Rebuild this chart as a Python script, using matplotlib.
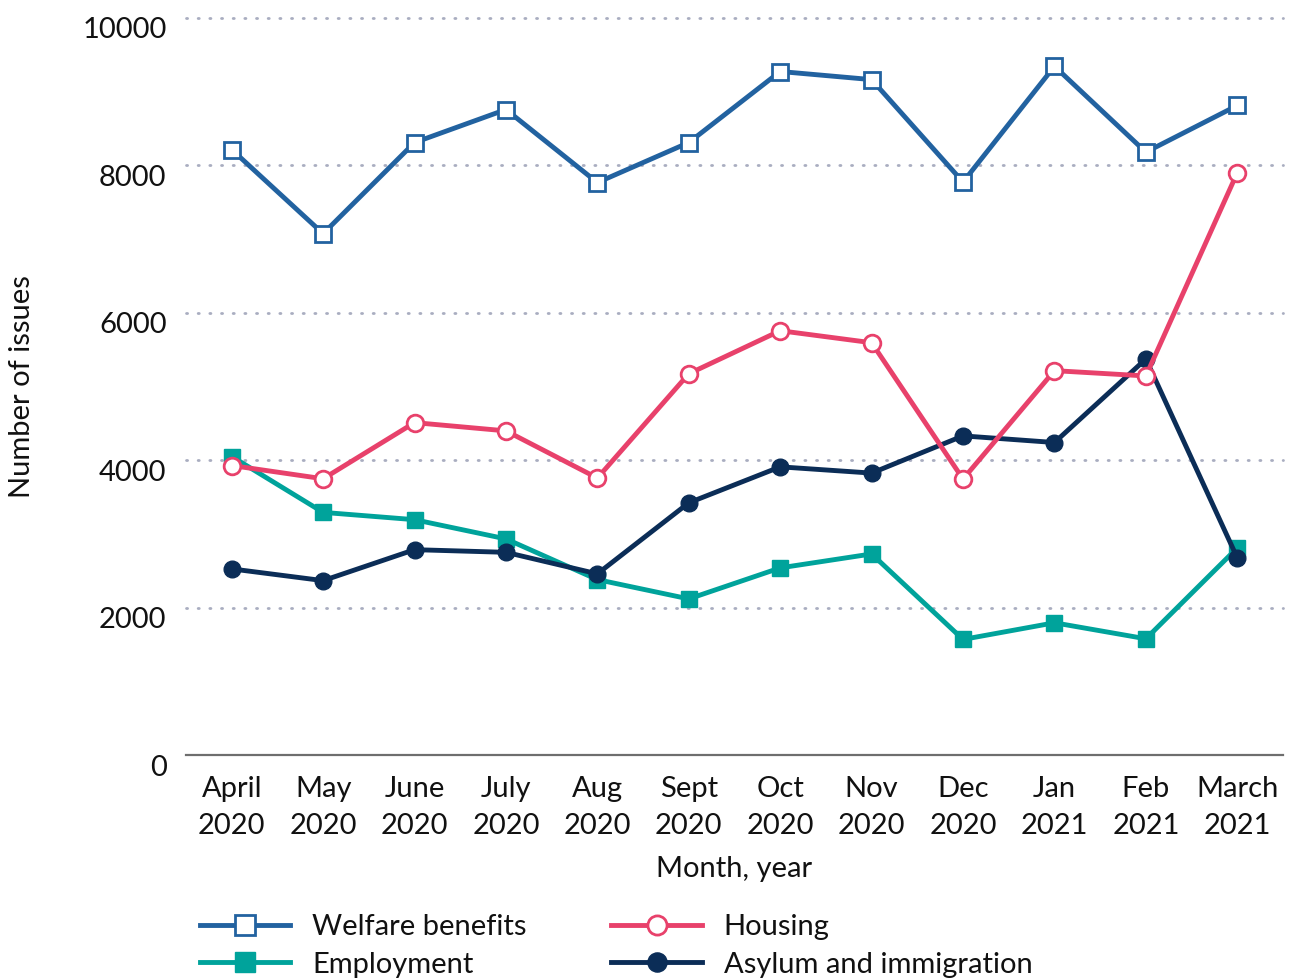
import matplotlib
matplotlib.use("Agg")
import matplotlib.pyplot as plt
import matplotlib.transforms as mtransforms

plt.rcParams['font.family'] = ['Lato', 'DejaVu Sans']

months = ["April\n2020", "May\n2020", "June\n2020", "July\n2020", "Aug\n2020", "Sept\n2020",
          "Oct\n2020", "Nov\n2020", "Dec\n2020", "Jan\n2021", "Feb\n2021", "March\n2021"]

welfare = [8215, 7074, 8310, 8758, 7767, 8310, 9274, 9164, 7774, 9345, 8180, 8813]
housing = [3928, 3748, 4510, 4398, 3758, 5173, 5757, 5594, 3744, 5215, 5143, 7901]
employment = [4050, 3292, 3193, 2932, 2380, 2118, 2539, 2728, 1568, 1794, 1577, 2810]
asylum = [2525, 2366, 2786, 2750, 2458, 3422, 3910, 3825, 4330, 4240, 5373, 2674]

y_ticks = [0, 2000, 4000, 6000, 8000, 10000]

C_WELFARE = "#2262a0"
C_HOUSING = "#e8416b"
C_EMPLOY = "#00a39b"
C_ASYLUM = "#0b2d57"

FS = 21

fig = plt.figure(figsize=(12.91, 9.80), dpi=100)
ax = fig.add_axes([186 / 1291, 1 - 755 / 980, (1283 - 186) / 1291, (755 - 18) / 980])

x = list(range(len(months)))
lw = 3.5
ms = 12

l_emp, = ax.plot(x, employment, color=C_EMPLOY, lw=lw, marker="s", ms=ms,
                 mfc=C_EMPLOY, mec=C_EMPLOY, zorder=3, label="Employment", clip_on=False)
l_asy, = ax.plot(x, asylum, color=C_ASYLUM, lw=lw, marker="o", ms=ms,
                 mfc=C_ASYLUM, mec=C_ASYLUM, zorder=4, label="Asylum and immigration", clip_on=False)
l_hou, = ax.plot(x, housing, color=C_HOUSING, lw=lw, marker="o", ms=ms,
                 mfc="white", mec=C_HOUSING, mew=2, zorder=5, label="Housing", clip_on=False)
l_wel, = ax.plot(x, welfare, color=C_WELFARE, lw=lw, marker="s", ms=ms,
                 mfc="white", mec=C_WELFARE, mew=2, zorder=6, label="Welfare benefits", clip_on=False)

ax.set_xlim(-0.5, len(months) - 0.5)
ax.set_ylim(0, 10000)

# dotted horizontal gridlines (not at zero)
for yv in y_ticks[1:]:
    ax.axhline(yv, color="#a9adc0", lw=2.0, ls=(0, (0.4, 3.8)), dash_capstyle="round",
               zorder=1, clip_on=False)

for side in ("top", "right", "left"):
    ax.spines[side].set_visible(False)
ax.spines["bottom"].set_color("#6e6e6e")
ax.spines["bottom"].set_linewidth(1.6)

ax.set_yticks(y_ticks)
ax.set_yticklabels([str(v) for v in y_ticks])
ax.set_xticks(x)
ax.set_xticklabels(months, linespacing=1.55)
ax.tick_params(axis="both", length=0, labelsize=FS, colors="#111111")
ax.tick_params(axis="y", pad=14)
ax.tick_params(axis="x", pad=15)

offset = mtransforms.ScaledTranslation(0, -10 / 100, fig.dpi_scale_trans)
for lab in ax.get_yticklabels():
    lab.set_transform(lab.get_transform() + offset)

ax.set_xlabel("Month, year", fontsize=FS, labelpad=12, color="#111111")
ax.set_ylabel("Number of issues", fontsize=FS, labelpad=34, color="#111111")

leg = fig.legend(handles=[l_wel, l_emp, l_hou, l_asy], ncol=2, loc="upper left",
                 bbox_to_anchor=(200 / 1291, 1 - 914 / 980), frameon=False, fontsize=FS,
                 handlelength=3.1, handletextpad=0.75, labelspacing=0.4, columnspacing=2.9,
                 borderpad=0, borderaxespad=0, markerscale=1.15)
for t in leg.get_texts():
    t.set_color("#111111")

fig.savefig("out.png", dpi=100, facecolor="white")
